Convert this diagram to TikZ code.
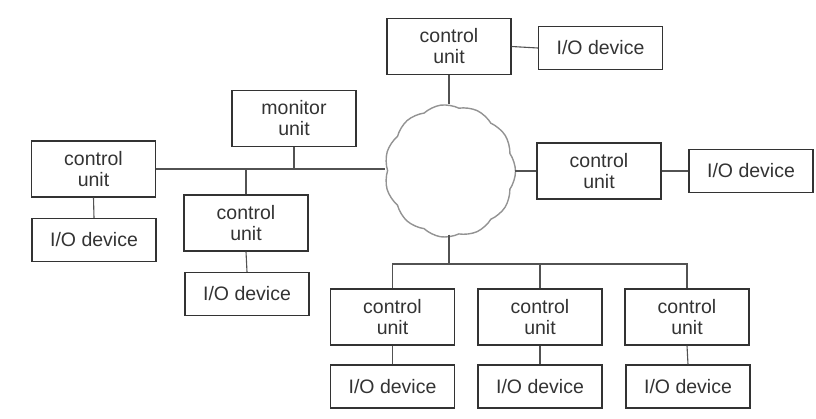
\documentclass[tikz,border=0pt]{standalone}
\usepackage{fontspec}
\setmainfont{Liberation Sans}
\usetikzlibrary{shapes.symbols}
\definecolor{ink}{HTML}{333333}
\begin{document}
\begin{tikzpicture}[x=1pt,y=-1pt,
  unitbox/.style={draw=ink, line width=1.2pt, minimum width=124pt, minimum height=56pt, inner sep=0pt, align=center, text=ink, font=\fontsize{19.5}{21}\selectfont},
  iobox/.style={unitbox, minimum height=43pt},
  wire/.style={draw=ink!85, line width=1.1pt},
  netcloud/.style={cloud, cloud puffs=11, cloud puff arc=70, cloud ignores aspect, draw=gray!85, line width=1.4pt, fill=white, minimum width=131pt, minimum height=133pt, inner sep=0pt}]
\useasboundingbox (0,0) rectangle (816,418);
% cloud
\node[netcloud, rotate=8] (cloud) at (450,171) {};
% top
\node[unitbox] (cuT) at (449,46.5) {control\\unit};
\node[iobox] (ioT) at (600.5,48) {I/O device};
% monitor
\node[unitbox] (mon) at (294,118.5) {monitor\\unit};
% left
\node[unitbox] (cuL) at (93.5,169) {control\\unit};
\node[iobox] (ioL) at (94,240) {I/O device};
% middle
\node[unitbox] (cuM) at (246,223) {control\\unit};
\node[iobox] (ioM) at (247,294) {I/O device};
% right
\node[unitbox] (cuR) at (599,171) {control\\unit};
\node[iobox] (ioR) at (751,171) {I/O device};
% bottom
\node[unitbox] (cuB1) at (392.5,317) {control\\unit};
\node[unitbox] (cuB2) at (540,317) {control\\unit};
\node[unitbox] (cuB3) at (687,317) {control\\unit};
\node[iobox] (ioB1) at (392.5,386.5) {I/O device};
\node[iobox] (ioB2) at (540,386.5) {I/O device};
\node[iobox] (ioB3) at (688,386.5) {I/O device};
% bus coordinates
\coordinate (busL) at (cuL.east);
\coordinate (busB) at (449,264);
% connectors
\draw[wire] (cuT.east) -- (ioT.west);
\draw[wire] (cuT.south) -- (cuT.south |- cloud.north);
\draw[wire] (cuL.east) -- (cuL.east -| cloud.west);
\draw[wire] (mon.south) -- (mon.south |- busL);
\draw[wire] (cuM.north) -- (cuM.north |- busL);
\draw[wire] (cuL.south) -- (ioL.north);
\draw[wire] (cuM.south) -- (ioM.north);
\draw[wire] (cuR.west -| cloud.east) -- (cuR.west);
\draw[wire] (cuR.east) -- (ioR.west);
\draw[wire] (busB |- cloud.south) -- (busB);
\draw[wire] (cuB1.north) -- (cuB1.north |- busB) -- (cuB3.north |- busB) -- (cuB3.north);
\draw[wire] (cuB2.north) -- (cuB2.north |- busB);
\draw[wire] (cuB1.south) -- (ioB1.north);
\draw[wire] (cuB2.south) -- (ioB2.north);
\draw[wire] (cuB3.south) -- (ioB3.north);
\end{tikzpicture}
\end{document}
